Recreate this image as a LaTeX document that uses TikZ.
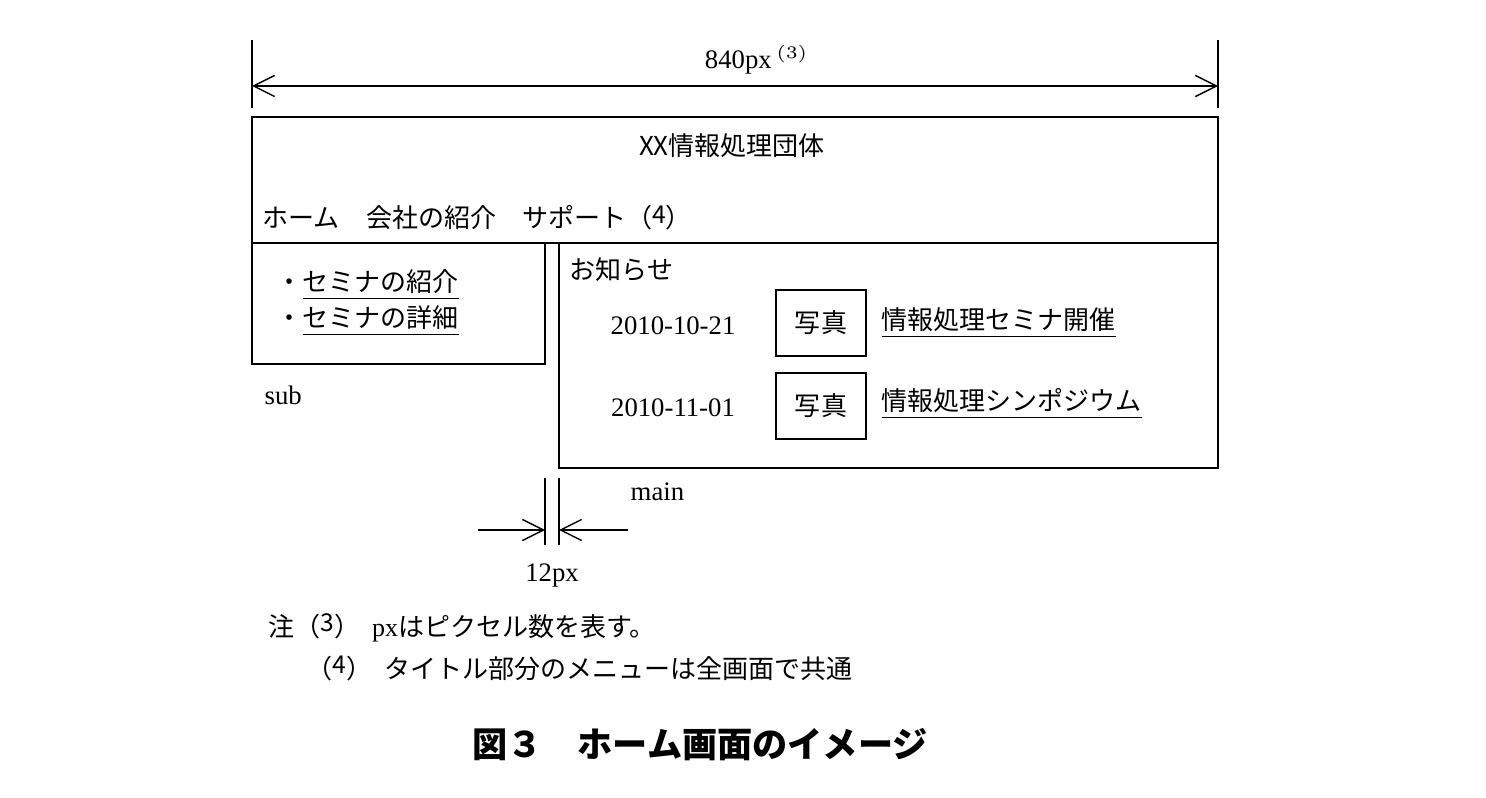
\documentclass[tikz,border=0pt]{standalone}
\usepackage{fontspec}
\setmainfont{Liberation Serif}
\newfontfamily\jp{Noto Sans CJK JP}
\usetikzlibrary{positioning,arrows.meta}
\tikzset{
  frame/.style={draw,thick},
  lbl/.style={inner sep=0pt,font=\jp\fontsize{7.4}{9}\selectfont},
  num/.style={inner sep=0pt,font=\fontsize{7.6}{9}\selectfont},
  dim/.style={thin,-{Straight Barb[length=6pt,width=6pt]}},
  photo/.style={draw,thick,minimum width=0.9cm,minimum height=0.66cm,inner sep=0pt,font=\jp\fontsize{7.4}{9}\selectfont}
}
\begin{document}
\begin{tikzpicture}[x=0.01cm,y=-0.01cm]
    \useasboundingbox (0,0) rectangle (1486,798);
    % overall width
    \coordinate (wl) at (252,86);
    \coordinate (wr) at (1218,86);
    \draw[thin] (252,40) -- (252,108);
    \draw[thin] (1218,40) -- (1218,108);
    \draw[dim,{Straight Barb[length=6pt,width=6pt]}-{Straight Barb[length=6pt,width=6pt]}] (wl) -- (wr);
    \node[num] (width) at (757,60) {840px\,$^{(3)}$};
    % header
    \draw[frame] (252,117) rectangle (1218,243);
    \node[lbl] (title) at (732,146) {XX情報処理団体};
    \node[lbl,anchor=west] (menu) at (262,218) {ホーム　会社の紹介　サポート（\raisebox{0.35ex}{\scriptsize 4}）};
    % sub
    \draw[frame] (252,243) rectangle (545,364);
    \node[lbl,anchor=west] (s1) at (276,285) {・\underline{セミナの紹介}};
    \node[lbl,anchor=west] (s2) at (276,321) {・\underline{セミナの詳細}};
    \node[num,anchor=west] (sub) at (264,395) {sub};
    % main
    \draw[frame] (559,243) rectangle (1218,468);
    \node[lbl,anchor=west] (news) at (569,270) {お知らせ};
    \node[num] (d1) at (673,326) {2010-10-21};
    \node[num] (d2) at (673,408) {2010-11-01};
    \node[photo] (p1) at (821,323) {写真};
    \node[photo] (p2) at (821,406) {写真};
    \node[lbl,anchor=west] (n1) at (881,323) {\underline{情報処理セミナ開催}};
    \node[lbl,anchor=west] (n2) at (881,404) {\underline{情報処理シンポジウム}};
    \node[num,anchor=west] (main) at (630,492) {main};
    % gap
    \draw[thin] (545,478) -- (545,545);
    \draw[thin] (559,478) -- (559,545);
    \coordinate (gl) at (545,530);
    \coordinate (gr) at (559,530);
    \coordinate (gla) at (478,530);
    \coordinate (gra) at (628,530);
    \draw[dim] (gla) -- (gl);
    \draw[dim] (gra) -- (gr);
    \node[num] (gap) at (552,575) {12px};
    % notes
    \node[lbl,anchor=west] (note3) at (268,628) {注（\raisebox{0.35ex}{\scriptsize 3}）\ \ {\fontspec{Liberation Serif}px}はピクセル数を表す。};
    \node[lbl,anchor=west] (note4) at (306,668) {（\raisebox{0.35ex}{\scriptsize 4}）\ \ タイトル部分のメニューは全画面で共通};
    \node[inner sep=0pt,font=\jp\bfseries\fontsize{10}{12}\selectfont] (caption) at (700,745) {図３　ホーム画面のイメージ};
\end{tikzpicture}
\end{document}
